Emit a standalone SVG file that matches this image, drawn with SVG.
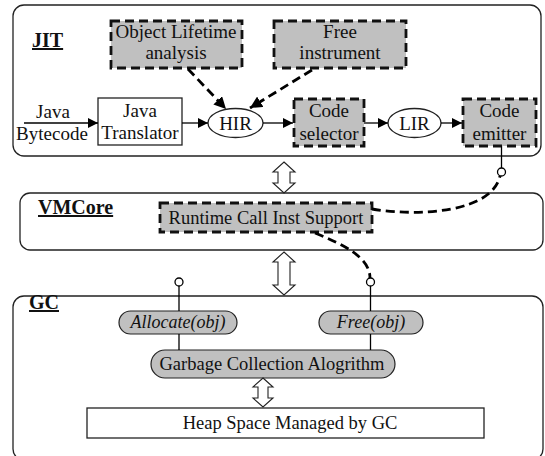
<svg xmlns="http://www.w3.org/2000/svg" width="545" height="456" viewBox="0 0 545 456">
  <defs>
    <marker id="ah" viewBox="0 0 10 10" refX="10" refY="5" markerWidth="10" markerHeight="10" markerUnits="userSpaceOnUse" orient="auto">
      <path d="M0,0 L10,5 L0,10 z" fill="#000"/>
    </marker>
    <marker id="ahd" viewBox="0 0 10 10" refX="10" refY="5" markerWidth="12" markerHeight="12" markerUnits="userSpaceOnUse" orient="auto">
      <path d="M0,0 L10,5 L0,10 z" fill="#000"/>
    </marker>
  </defs>
  <style>
    text { font-family: "Liberation Serif", "Times New Roman", serif; fill: #111; }
    .lbl { font-size: 19px; text-anchor: middle; }
    .sm { font-size: 18.5px; text-anchor: middle; }
    .title { font-size: 20px; font-weight: bold; text-decoration: underline; }
    .it { font-style: italic; font-size: 18px; text-anchor: middle; }
    .layer { fill: #fff; stroke: #222; stroke-width: 1.3; }
    .dbox { fill: #c0c0c0; stroke: #111; stroke-width: 2.8; stroke-dasharray: 9 5; }
    .pill { fill: #c0c0c0; stroke: #222; stroke-width: 1.2; }
    .plain { fill: #fff; stroke: #222; stroke-width: 1.3; }
    .line { fill: none; stroke: #000; stroke-width: 1.3; }
    .dline { fill: none; stroke: #000; stroke-width: 2.8; stroke-dasharray: 9 5; }
    .dbl { fill: #fff; stroke: #222; stroke-width: 1.1; }
    .port { fill: #fff; stroke: #000; stroke-width: 1.3; }
  </style>

  <!-- layers -->
  <g id="jit">
    <rect class="layer" x="13" y="5" width="528" height="151" rx="11"/>
    <text class="title" x="32" y="47">JIT</text>
  </g>
  <g id="vmcore">
    <rect class="layer" x="20" y="193" width="523" height="57" rx="10"/>
    <text class="title" x="38" y="214">VMCore</text>
  </g>
  <g id="gc">
    <rect class="layer" x="13" y="296" width="530" height="164" rx="11"/>
    <text class="title" x="29" y="309">GC</text>
  </g>

  <!-- JIT nodes -->
  <g id="object-lifetime">
    <rect class="dbox" x="111" y="21" width="131" height="47"/>
    <text class="lbl" x="176" y="38">Object Lifetime</text>
    <text class="lbl" x="176" y="59">analysis</text>
  </g>
  <g id="free-instrument">
    <rect class="dbox" x="274" y="21" width="132" height="47"/>
    <text class="lbl" x="340" y="38">Free</text>
    <text class="lbl" x="340" y="59">instrument</text>
  </g>
  <g id="java-bytecode">
    <text class="lbl" x="53" y="118">Java</text>
    <text class="lbl" x="52" y="140">Bytecode</text>
  </g>
  <g id="java-translator">
    <rect class="plain" x="98" y="98" width="84" height="47"/>
    <text class="lbl" x="140" y="117">Java</text>
    <text class="lbl" x="140" y="139">Translator</text>
  </g>
  <g id="hir">
    <ellipse class="plain" cx="235.5" cy="123" rx="27.5" ry="14.5"/>
    <text class="lbl" x="235.5" y="130">HIR</text>
  </g>
  <g id="code-selector">
    <rect class="dbox" x="294" y="99" width="70" height="47"/>
    <text class="lbl" x="329" y="117">Code</text>
    <text class="lbl" x="329" y="140">selector</text>
  </g>
  <g id="lir">
    <ellipse class="plain" cx="414.5" cy="123" rx="26.5" ry="14.5"/>
    <text class="lbl" x="414.5" y="130">LIR</text>
  </g>
  <g id="code-emitter">
    <rect class="dbox" x="463" y="99" width="73" height="47"/>
    <text class="lbl" x="499.5" y="117">Code</text>
    <text class="lbl" x="499.5" y="140">emitter</text>
  </g>

  <!-- VMCore node -->
  <g id="runtime-call">
    <rect class="dbox" x="160" y="203" width="212" height="29"/>
    <text class="sm" x="266" y="224">Runtime Call Inst Support</text>
  </g>

  <!-- GC nodes -->
  <g id="allocate">
    <rect class="pill" x="119" y="311" width="118" height="23" rx="11.5"/>
    <text class="it" x="178" y="328">Allocate(obj)</text>
  </g>
  <g id="free">
    <rect class="pill" x="319" y="311" width="104" height="23" rx="11.5"/>
    <text class="it" x="371" y="328">Free(obj)</text>
  </g>
  <g id="gc-algorithm">
    <rect class="pill" x="151" y="350" width="244" height="28" rx="14"/>
    <text class="sm" x="272" y="370">Garbage Collection Alogrithm</text>
  </g>
  <g id="heap">
    <rect class="plain" x="87" y="408" width="397" height="30"/>
    <text class="sm" x="290" y="429">Heap Space Managed by GC</text>
  </g>

  <!-- connectors -->
  <g id="connectors">
    <line class="line" x1="24" y1="123" x2="98" y2="123" marker-end="url(#ah)"/>
    <line class="line" x1="182" y1="123" x2="208" y2="123" marker-end="url(#ah)"/>
    <line class="line" x1="263" y1="123" x2="293" y2="123" marker-end="url(#ah)"/>
    <line class="line" x1="364" y1="123" x2="388" y2="123" marker-end="url(#ah)"/>
    <line class="line" x1="441" y1="123" x2="462" y2="123" marker-end="url(#ah)"/>

    <line class="dline" x1="188" y1="69" x2="226" y2="109" marker-end="url(#ahd)"/>
    <line class="dline" x1="312" y1="70" x2="250" y2="108" marker-end="url(#ahd)"/>

    <!-- hollow double arrows between layers -->
    <path class="dbl" d="M284,162 L295,172 L290,172 L290,183 L295,183 L284,193 L273,183 L278,183 L278,172 L273,172 Z"/>
    <path class="dbl" d="M284,252 L295,262 L290,262 L290,285 L295,285 L284,295 L273,285 L278,285 L278,262 L273,262 Z"/>
    <path class="dbl" d="M263,378 L273,387 L268,387 L268,398 L273,398 L263,407 L253,398 L258,398 L258,387 L253,387 Z"/>

    <!-- emitter port to runtime support -->
    <line class="line" x1="501.5" y1="146" x2="501.5" y2="168"/>
    <path class="dline" d="M372,209 C 420,217 492,212 500,176"/>
    <circle class="port" cx="501.5" cy="172" r="4"/>

    <!-- runtime support to free port -->
    <path class="dline" d="M315,233 C 345,245 370,258 370,278"/>
    <circle class="port" cx="370.5" cy="282" r="4"/>
    <line class="line" x1="370.5" y1="286" x2="370.5" y2="311"/>
    <line class="line" x1="370.5" y1="334" x2="370.5" y2="350"/>

    <!-- allocate port -->
    <circle class="port" cx="179" cy="282" r="4"/>
    <line class="line" x1="179" y1="286" x2="179" y2="311"/>
    <line class="line" x1="179" y1="334" x2="179" y2="350"/>
  </g>
</svg>
